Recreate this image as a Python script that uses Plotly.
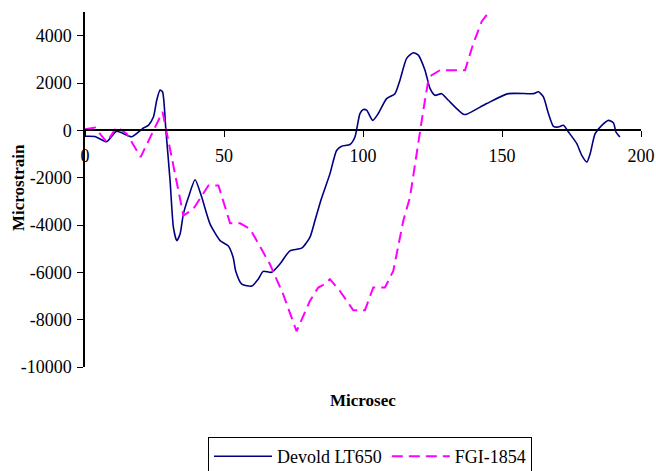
import plotly.graph_objects as go

# Devold LT650 (smoothed solid navy)
devold_t = [0, 3.6, 7.8, 11.4, 16.8, 21, 22.8, 24.6, 25.8, 27, 27.9, 29.1, 30.6, 31.8, 33, 34.2,
            35.4, 37.2, 39.6, 42, 45, 48.6, 51.5, 53.3, 54.2, 56.4, 60, 62.3, 64.1, 67.1, 70.1,
            73.7, 77.9, 80.9, 82.7, 85, 88.1, 90.5, 92.3, 95.3, 97.1, 98.9, 100.1, 101.3, 103.5,
            105.5, 108.5, 111.5, 113.3, 115.7, 118.1, 119.9, 122.3, 124.1, 125.9, 128.3, 130.7,
            133.7, 136.1, 137.3, 144.5, 152.3, 161.3, 163.1, 164.9, 166.7, 168.5, 170.3, 172.1,
            173.9, 176.9, 178.7, 180.5, 181.7, 183.5, 185.9, 188.3, 190.1, 191, 192.4]
devold_v = [-250, -260, -480, -40, -270, 100, 210, 560, 1270, 1700, 1620, 0, -2120, -4100, -4660, -4380,
            -3530, -2830, -2090, -2830, -3960, -4660, -4880, -5370, -5940, -6500, -6580, -6290, -5960, -6000, -5650,
            -5090, -4980, -4520, -3820, -2900, -1840, -850, -670, -600, -280, 710, 880, 850, 420,
            710, 1340, 1550, 2120, 3040, 3280, 3180, 2540, 1770, 1480, 1550, 1270,
            920, 680, 680, 1130, 1550, 1550, 1630, 1410, 710, 170, 140, 210,
            -70, -560, -1060, -1340, -990, -140, 210, 420, 310, -70, -280]

# FGI-1854 (dashed magenta)
fgi_t = [0, 3.6, 7.8, 11.4, 15, 20, 27.9, 35.4, 39, 44.4, 48, 52.2, 55.8, 59.4, 66.5, 71.3, 76.1,
         78.5, 80.9, 83.9, 86.3, 88.1, 91.7, 96.5, 100.7, 103.7, 107.9, 110.9, 114.5, 116.9,
         119.9, 121.7, 123.5, 124.7, 127.7, 136.7, 139.7, 142.7, 146.3]
fgi_v = [50, 120, -500, 140, -140, -1130, 780, -3600, -3320, -2330, -2330, -3930, -3930, -4170, -5650, -6930, -8490,
         -7850, -7210, -6640, -6500, -6290, -6790, -7600, -7600, -6640, -6640, -5940, -3820, -2830,
         -420, 850, 2120, 2330, 2540, 2540, 3680, 4600, 5160]

x_ticks = [0, 50, 100, 150, 200]
y_ticks = [-10000, -8000, -6000, -4000, -2000, 0, 2000, 4000]

FONT = "Liberation Serif, Times New Roman, serif"

fig = go.Figure()
fig.add_trace(go.Scatter(x=devold_t, y=devold_v, mode="lines", name="Devold LT650",
                         line=dict(color="#000080", width=1.6, shape="spline", smoothing=0.6)))
fig.add_trace(go.Scatter(x=fgi_t, y=fgi_v, mode="lines", name="FGI-1854",
                         line=dict(color="#FF00FF", width=2, dash="11px,6px")))

fig.update_layout(
    width=656, height=471,
    margin=dict(l=85, r=15, t=12, b=104, autoexpand=False),
    paper_bgcolor="white", plot_bgcolor="white",
    font=dict(family=FONT, size=18, color="black"),
    showlegend=True,
    legend=dict(orientation="h", xref="container", yref="container",
                x=370 / 656, xanchor="center", y=(471 - 437) / 471, yanchor="top",
                bordercolor="black", borderwidth=1, bgcolor="white",
                font=dict(family=FONT, size=18), itemwidth=58,
                tracegroupgap=0),
    xaxis=dict(range=[0, 200], tickvals=x_ticks, ticktext=[str(v) for v in x_ticks],
               showgrid=False, zeroline=False, showline=True, linecolor="black", linewidth=1.5,
               ticks="outside", ticklen=6, tickcolor="black", tickwidth=1, automargin=False,
               ticklabelstandoff=3,
               anchor="free", position=2/3, tickfont=dict(family=FONT, size=18)),
    yaxis=dict(range=[-10000, 5000], tickvals=y_ticks, ticktext=[str(v) for v in y_ticks],
               showgrid=False, zeroline=False, showline=True, linecolor="black", linewidth=1.5,
               ticks="outside", ticklen=6, tickcolor="black", tickwidth=1, automargin=False,
               ticklabelstandoff=2,
               tickfont=dict(family=FONT, size=18)),
    annotations=[
        dict(text="<b>Microsec</b>", x=0.5, xref="paper", y=(367 - 400) / 355, yref="paper",
             yanchor="middle", showarrow=False, font=dict(family=FONT, size=17)),
        dict(text="<b>Microstrain</b>", textangle=-90, x=(18 - 85) / 556, xref="paper",
             xanchor="center", y=(367 - 188) / 355, yref="paper", yanchor="middle",
             showarrow=False, font=dict(family=FONT, size=17)),
    ],
)

fig.write_html("out.html")
